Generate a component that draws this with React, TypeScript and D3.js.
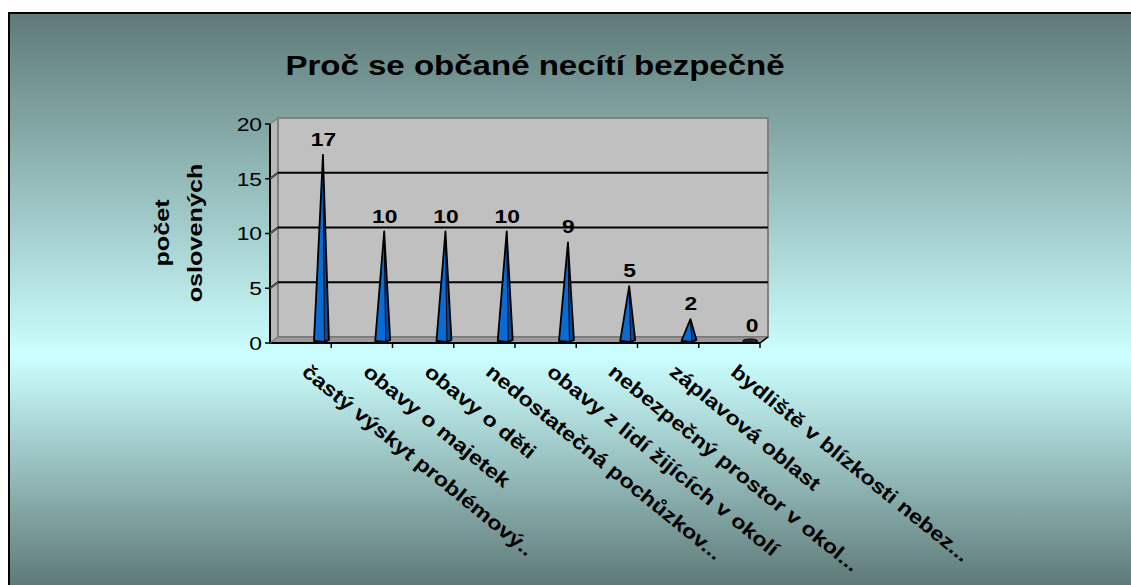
import * as d3 from 'd3'

// chart data
const categories = [
  'častý výskyt problémový..',
  'obavy o majetek',
  'obavy o děti',
  'nedostatečná pochůzkov...',
  'obavy z lidí žijících v okolí',
  'nebezpečný prostor v okol...',
  'záplavová oblast',
  'bydliště v blízkosti nebez...',
]
const values = [17, 10, 10, 10, 9, 5, 2, 0]
const yTicks = [0, 5, 10, 15, 20]
const title = 'Proč se občané necítí bezpečně'
const yTitle = ['počet', 'oslovených']

const W = 1131
const H = 585
const FONT = '"Liberation Sans", Arial, sans-serif'

export default function App() {
  // front plane of the 3d box
  const x = d3.scaleBand<string>().domain(categories).range([270, 760]).padding(0)
  const y = d3.scaleLinear().domain([0, 20]).range([343, 124])
  const bw = x.bandwidth()
  // depth offset of the back wall
  const dx = 8
  const dy = -6

  const x0 = x.range()[0]
  const x1 = x.range()[1]
  const y0 = y(0)
  const yTop = y(20)

  const pts = (p: [number, number][]) => p.map(d => d.join(',')).join(' ')

  return (
    <svg width={W} height={H} style={{ position: 'absolute', left: 0, top: 0, display: 'block' }}
      fontFamily={FONT}>
      <defs>
        <linearGradient id="bg" gradientUnits="userSpaceOnUse" x1="0" y1="13" x2="0" y2={H}>
          <stop offset="0" stopColor="#5e7a78" />
          <stop offset="0.6" stopColor="#ccffff" />
          <stop offset="1" stopColor="#5e7a78" />
        </linearGradient>
      </defs>
      <rect width={W} height={H} fill="#fff" />
      <rect x={9} y={13} width={W + 20} height={H + 20} fill="url(#bg)" stroke="#000" strokeWidth={2} />

      {/* title */}
      <text transform={`translate(535,75) scale(1.18,1)`} textAnchor="middle" fontWeight="bold" fontSize={28}>
        {title}
      </text>

      {/* side wall */}
      <polygon points={pts([[x0, yTop], [x0 + dx, yTop + dy], [x0 + dx, y0 + dy], [x0, y0]])}
        fill="#b8b8b8" stroke="#808080" strokeWidth={1.5} />
      {/* back wall */}
      <polygon points={pts([[x0 + dx, yTop + dy], [x1 + dx, yTop + dy], [x1 + dx, y0 + dy], [x0 + dx, y0 + dy]])}
        fill="#c0c0c0" stroke="#808080" strokeWidth={2} />
      {/* floor */}
      <polygon points={pts([[x0, y0], [x0 + dx, y0 + dy], [x1 + dx, y0 + dy], [x1, y0]])}
        fill="#9a9a9a" stroke="#707070" strokeWidth={1} />

      {/* gridlines */}
      {yTicks.filter(t => t > 0 && t < 20).map(t => (
        <polyline key={t} points={pts([[x0, y(t)], [x0 + dx, y(t) + dy], [x1 + dx, y(t) + dy]])}
          fill="none" stroke="#000" strokeWidth={1.8} />
      ))}

      {/* cones */}
      {categories.map((c, i) => {
        const v = values[i]
        const cx = (x(c) as number) + bw * 0.84
        const base = y0 - 2
        if (v === 0) {
          return <ellipse key={c} cx={cx} cy={base} rx={7.5} ry={2} fill="#222" stroke="#000" />
        }
        const px = cx + 1.5
        const py = y(v) - 2
        return (
          <g key={c}>
            <polygon points={pts([[px, py], [cx - 7.5, base], [cx + 3, base + 1]])} fill="#0b6bd4" />
            <polygon points={pts([[px, py], [cx + 3, base + 1], [cx + 7.5, base - 1]])} fill="#074a96" />
            <polygon points={pts([[px, py], [cx - 7.5, base], [cx + 3, base + 1], [cx + 7.5, base - 1]])}
              fill="none" stroke="#000" strokeWidth={1.8} strokeLinejoin="round" />
            <line x1={px} y1={py} x2={cx + 3} y2={base + 1} stroke="#000" strokeWidth={1} />
          </g>
        )
      })}

      {/* axes */}
      <line x1={x0} y1={yTop} x2={x0} y2={y0} stroke="#000" strokeWidth={2} />
      <line x1={x0} y1={y0} x2={x1} y2={y0} stroke="#000" strokeWidth={2} />
      <line x1={x1} y1={y0} x2={x1 + dx} y2={y0 + dy} stroke="#000" strokeWidth={1.5} />
      {yTicks.map(t => (
        <g key={t}>
          <line x1={x0 - 5} y1={y(t)} x2={x0} y2={y(t)} stroke="#000" strokeWidth={1.5} />
          <line x1={x0} y1={y(t)} x2={x0 + dx} y2={y(t) + dy} stroke="#808080" strokeWidth={1} />
          <text transform={`translate(${x0 - 8},${y(t)}) scale(1.2,1)`} textAnchor="end" dy="0.36em"
            fontSize={19}>{t}</text>
        </g>
      ))}
      {categories.map(c => (
        <line key={c} x1={(x(c) as number) + bw} y1={y0} x2={(x(c) as number) + bw} y2={y0 + 5}
          stroke="#000" strokeWidth={1.5} />
      ))}

      {/* value labels */}
      {categories.map((c, i) => (
        <text key={c} transform={`translate(${(x(c) as number) + bw * 0.84 + 2},${y(values[i]) - 11}) scale(1.2,1)`}
          textAnchor="middle" fontWeight="bold" fontSize={19}>{values[i]}</text>
      ))}

      {/* category labels */}
      {categories.map(c => (
        <text key={c} transform={`translate(${(x(c) as number) + bw / 2},${y0 + 31}) rotate(39) scale(1.17,1)`}
          fontWeight="bold" fontSize={20}>{c}</text>
      ))}

      {/* y title */}
      {yTitle.map((s, i) => (
        <text key={s} transform={`translate(${169 + i * 33},233) rotate(-90) scale(1.2,1)`}
          textAnchor="middle" fontWeight="bold" fontSize={21}>{s}</text>
      ))}
    </svg>
  )
}
